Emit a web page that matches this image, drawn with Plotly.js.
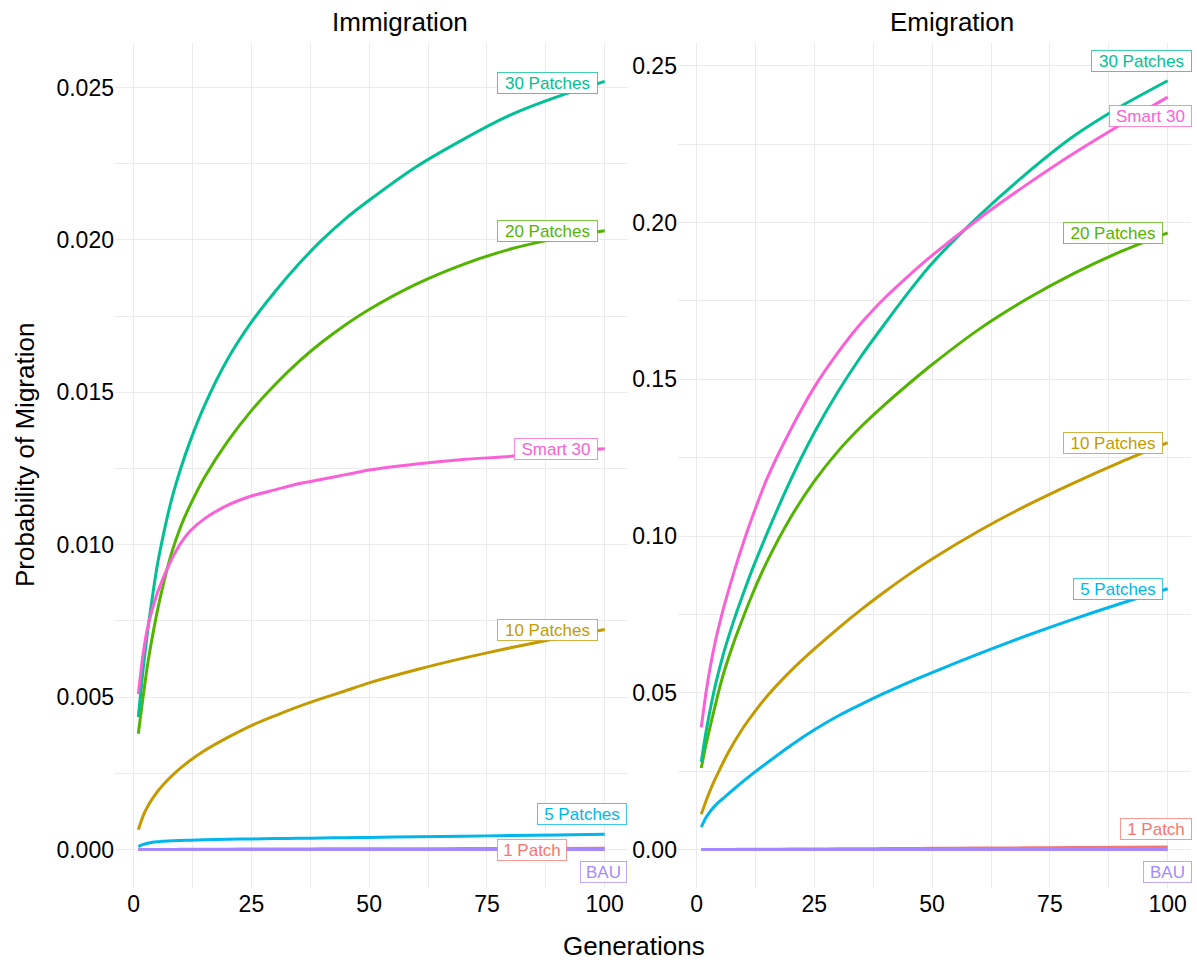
<!DOCTYPE html>
<html>
<head>
<meta charset="utf-8">
<script src="https://cdn.plot.ly/plotly-3.0.1.min.js"></script>
<style>
  html, body { margin: 0; padding: 0; background: #ffffff; }
  #chart { width: 1197px; height: 964px; }
</style>
</head>
<body>
<div id="chart"></div>
<script>
// Generations at which each scenario curve is sampled
const generations = [1, 2, 3, 4, 5, 6, 8, 10, 12, 15, 20, 25, 30, 35, 40, 45, 50, 60, 70, 80, 90, 100];

// Scenario names, in factor order (drawing order)
const scenarios = ["1 Patch", "10 Patches", "20 Patches", "30 Patches", "5 Patches", "BAU", "Smart 30"];

// Immigration probabilities per scenario
const immOnePatch   = [0, 0.000001, 0.000002, 0.000003, 0.000004, 0.000005, 0.000006, 0.000008, 0.00001, 0.000012, 0.000015, 0.000018, 0.00002, 0.000022, 0.000024, 0.000026, 0.000028, 0.00003, 0.000033, 0.000036, 0.000038, 0.00004];
const immTenPatches = [0.00065, 0.0011, 0.00142, 0.00167, 0.00189, 0.00208, 0.0024, 0.00268, 0.00292, 0.00324, 0.00368, 0.00407, 0.00439, 0.00469, 0.00496, 0.00521, 0.00547, 0.0059, 0.00628, 0.00662, 0.00693, 0.00722];
const immTwenty     = [0.0038, 0.0050, 0.0061, 0.0070, 0.0078, 0.0085, 0.0097, 0.0106, 0.0113, 0.0122, 0.0134, 0.0144, 0.01525, 0.0160, 0.01665, 0.01722, 0.01772, 0.01855, 0.0192, 0.0197, 0.02005, 0.0203];
const immThirty     = [0.00435, 0.0059, 0.0072, 0.0083, 0.0093, 0.0101, 0.01145, 0.0125, 0.0134, 0.01455, 0.0161, 0.0173, 0.0183, 0.0192, 0.0200, 0.0207, 0.0213, 0.0224, 0.0233, 0.0241, 0.0247, 0.0252];
const immFive       = [0.0001, 0.00017, 0.00021, 0.00024, 0.00026, 0.00027, 0.00029, 0.0003, 0.00031, 0.00032, 0.00034, 0.00035, 0.00036, 0.00037, 0.00038, 0.00039, 0.0004, 0.00042, 0.00044, 0.00046, 0.00048, 0.0005];
const immBAU        = [0, 0, 0, 0, 0, 0, 0, 0, 0, 0, 0, 0, 0, 0, 0, 0, 0, 0, 0, 0, 0, 0];
const immSmart30    = [0.0051, 0.0064, 0.0073, 0.0079, 0.0084, 0.0088, 0.0095, 0.01005, 0.01045, 0.01085, 0.0113, 0.0116, 0.0118, 0.0120, 0.01215, 0.0123, 0.01245, 0.01265, 0.0128, 0.0129, 0.01305, 0.01315];

// Emigration probabilities per scenario
const emiOnePatch   = [0, 0.00001, 0.00002, 0.00003, 0.00004, 0.00005, 0.00006, 0.00008, 0.0001, 0.00012, 0.00016, 0.0002, 0.00024, 0.00028, 0.00032, 0.00036, 0.0004, 0.00048, 0.00056, 0.00064, 0.00072, 0.0008];
const emiTenPatches = [0.0113, 0.0155, 0.0193, 0.0227, 0.0258, 0.0289, 0.0343, 0.0391, 0.0433, 0.049, 0.057, 0.064, 0.0705, 0.0766, 0.0823, 0.0877, 0.0927, 0.1017, 0.1097, 0.1169, 0.1236, 0.1298];
const emiTwenty     = [0.026, 0.0335, 0.040, 0.0462, 0.0522, 0.0575, 0.0665, 0.0745, 0.082, 0.092, 0.106, 0.1175, 0.127, 0.135, 0.142, 0.1485, 0.1547, 0.166, 0.1755, 0.1837, 0.1907, 0.1967];
const emiThirty     = [0.028, 0.0375, 0.0455, 0.0525, 0.0585, 0.064, 0.0735, 0.082, 0.090, 0.101, 0.118, 0.133, 0.146, 0.1575, 0.1678, 0.1778, 0.187, 0.2022, 0.2156, 0.2275, 0.237, 0.2452];
const emiFive       = [0.0072, 0.0102, 0.0124, 0.0141, 0.0155, 0.0168, 0.0194, 0.0219, 0.0243, 0.0277, 0.0332, 0.0382, 0.0426, 0.0464, 0.04995, 0.0533, 0.05645, 0.0625, 0.0682, 0.0735, 0.0785, 0.0832];
const emiBAU        = [0, 0, 0, 0, 0, 0, 0, 0, 0, 0, 0, 0, 0, 0, 0, 0, 0, 0, 0, 0, 0, 0];
const emiSmart30    = [0.039, 0.050, 0.059, 0.0665, 0.0728, 0.0785, 0.0888, 0.0982, 0.1068, 0.1185, 0.134, 0.1475, 0.1585, 0.168, 0.176, 0.183, 0.1895, 0.2013, 0.212, 0.222, 0.2312, 0.240];

const immigration = [immOnePatch, immTenPatches, immTwenty, immThirty, immFive, immBAU, immSmart30];
const emigration  = [emiOnePatch, emiTenPatches, emiTwenty, emiThirty, emiFive, emiBAU, emiSmart30];

// Default hue palette for seven groups
const colors = ["#F8766D", "#C49A00", "#53B400", "#00C094", "#00B6EB", "#A58AFF", "#FB61D7"];

// Label placement at the end of each line: [xshift, yshift, box width]
const immLabelPos = [[-38, -2, 68], [-7, 0, 99], [-7, 0, 99], [-7, -2, 99], [22, 20, 88], [22, -22, 45], [-7, 0, 82]];
const emiLabelPos = [[24, 18, 70], [-5, 0, 98], [-5, 0, 98], [24, 20, 99], [-5, 0, 88], [24, -22, 47], [24, -19, 81]];

const FONT = "Liberation Sans, Arial, Helvetica, sans-serif";

const traces = [];
function addLines(series, xa, ya) {
  scenarios.forEach((name, i) => {
    traces.push({
      x: generations, y: series[i], xaxis: xa, yaxis: ya,
      type: "scatter", mode: "lines", name: name,
      line: { color: colors[i], width: 3, shape: "spline", smoothing: 0.7 },
      hoverinfo: "x+y+name"
    });
  });
}
addLines(immigration, "x", "y");
addLines(emigration, "x2", "y2");

function hexToRgba(hex, a) {
  const n = parseInt(hex.slice(1), 16);
  return `rgba(${(n >> 16) & 255},${(n >> 8) & 255},${n & 255},${a})`;
}

const annotations = [];
function addLabels(series, pos, xref, yref) {
  const lastX = generations[generations.length - 1];
  scenarios.forEach((name, i) => {
    const vals = series[i];
    annotations.push({
      x: lastX, y: vals[vals.length - 1], xref: xref, yref: yref,
      text: name, showarrow: false,
      xanchor: "right", yanchor: "middle",
      xshift: pos[i][0], yshift: pos[i][1],
      width: pos[i][2], height: 20,
      font: { family: FONT, size: 17, color: colors[i] },
      bgcolor: "#ffffff",
      bordercolor: hexToRgba(colors[i], 0.75),
      borderwidth: 1, borderpad: 0
    });
  });
}
addLabels(immigration, immLabelPos, "x", "y");
addLabels(emigration, emiLabelPos, "x2", "y2");

// Facet strip titles and shared axis titles
const titleFont = { family: FONT, size: 26, color: "#000000" };
annotations.push(
  { text: "Immigration", xref: "paper", yref: "paper", x: 0.2649, y: 1.0249,
    xanchor: "center", yanchor: "middle", showarrow: false, font: titleFont },
  { text: "Emigration", xref: "paper", yref: "paper", x: 0.7779, y: 1.0249,
    xanchor: "center", yanchor: "middle", showarrow: false, font: titleFont },
  { text: "Generations", xref: "paper", yref: "paper", x: 0.4823, y: -0.0686,
    xanchor: "center", yanchor: "middle", showarrow: false, font: titleFont },
  { text: "Probability of Migration", xref: "paper", yref: "paper", x: -0.0836, y: 0.5124,
    xanchor: "center", yanchor: "middle", showarrow: false, textangle: -90, font: titleFont }
);

const GRID = "#EBEBEB";
function xAxis(domain, anchor) {
  return {
    domain: domain, anchor: anchor, range: [-3.95, 104.95],
    tickmode: "linear", tick0: 0, dtick: 25,
    showgrid: true, gridcolor: GRID, gridwidth: 1.1,
    minor: { tickmode: "linear", tick0: 0, dtick: 12.5, showgrid: true, gridcolor: GRID, gridwidth: 0.55 },
    zeroline: false, showline: false, ticks: "",
    tickfont: { family: FONT, size: 23, color: "#000000" }
  };
}
function yAxis(anchor, range, dtick, fmt) {
  return {
    anchor: anchor, domain: [0, 1], range: range,
    tickmode: "linear", tick0: 0, dtick: dtick, tickformat: fmt,
    showgrid: true, gridcolor: GRID, gridwidth: 1.1,
    minor: { tickmode: "linear", tick0: 0, dtick: dtick / 2, showgrid: true, gridcolor: GRID, gridwidth: 0.55 },
    zeroline: false, showline: false, ticks: "",
    tickfont: { family: FONT, size: 23, color: "#000000" }
  };
}

const layout = {
  width: 1197, height: 964,
  margin: { l: 115, r: 6, t: 43, b: 76, pad: 0 },
  paper_bgcolor: "#ffffff", plot_bgcolor: "#ffffff",
  showlegend: false,
  font: { family: FONT, color: "#000000" },
  xaxis: xAxis([0, 0.4768], "y"),
  yaxis: yAxis("x", [-0.00126, 0.02646], 0.005, ".3f"),
  xaxis2: xAxis([0.5232, 1], "y2"),
  yaxis2: yAxis("x2", [-0.01225, 0.25725], 0.05, ".2f"),
  annotations: annotations
};

Plotly.newPlot("chart", traces, layout, { displayModeBar: false, responsive: false });
</script>
</body>
</html>
